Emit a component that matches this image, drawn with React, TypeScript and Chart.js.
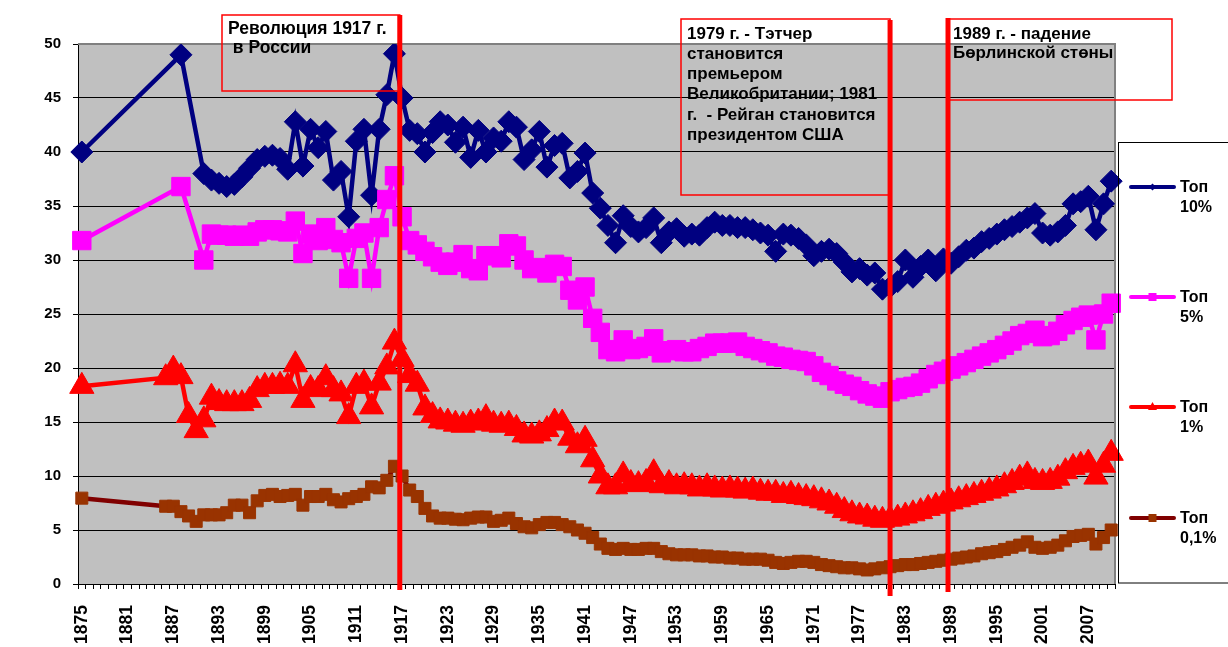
import React, { useEffect, useRef } from "react";
import { Chart, registerables } from "chart.js";

Chart.register(...registerables);

// Categories: every year from 1875 to 2010
const YEARS: string[] = Array.from({ length: 136 }, (_, i) => String(1875 + i));

// Top 10% income share
const TOP10: (number | null)[] = [
  40.0, null, null, null, null, // 1875-1879
  null, null, null, null, null, null, null, null, 49.0, null, // 1880-1889
  null, 38.0, 37.4, 37.1, 36.8, 37.0, 37.7, 38.5, 39.3, 39.6, // 1890s
  39.7, 39.4, 38.4, 42.8, 38.7, 42.1, 40.4, 41.9, 37.4, 38.2, // 1900s
  34.0, 41.0, 42.1, 36.0, 42.1, 45.3, 49.1, 45.0, 42.0, 41.7, // 1910s
  40.0, 41.8, 42.8, 42.5, 40.9, 42.3, 39.5, 42.0, 40.0, 41.3, // 1920s
  41.0, 42.8, 42.3, 39.3, 40.2, 41.9, 38.6, 40.6, 40.8, 37.6, // 1930s
  38.2, 39.9, 36.2, 34.8, 33.2, 31.6, 34.1, 33.1, 32.6, 33.0, // 1940s
  33.9, 31.6, 32.6, 32.9, 32.2, 32.4, 32.3, 33.0, 33.5, 33.2, // 1950s
  33.2, 33.0, 33.0, 32.8, 32.5, 32.3, 30.8, 32.4, 32.3, 32.0, // 1960s
  31.4, 30.4, 30.8, 31.0, 30.6, 29.8, 28.9, 29.2, 28.6, 28.8, // 1970s
  27.3, 27.5, 28.0, 30.0, 28.4, 29.4, 30.0, 29.0, 30.1, 29.7, // 1980s
  30.3, 30.9, 31.1, 31.7, 32.0, 32.4, 32.8, 33.1, 33.5, 33.9, // 1990s
  34.3, 32.5, 32.3, 32.6, 33.2, 35.2, 35.4, 35.9, 32.8, 35.2, // 2000s
  37.3, // 2010
];

// Top 5%
const TOP5: (number | null)[] = [
  31.8, null, null, null, null,
  null, null, null, null, null, null, null, null, 36.8, null,
  null, 30.0, 32.4, 32.3, 32.3, 32.2, 32.3, 32.2, 32.6, 32.8,
  32.8, 32.7, 32.6, 33.6, 30.6, 32.4, 31.8, 33.0, 31.9, 31.6,
  28.3, 32.0, 32.5, 28.3, 33.0, 35.6, 37.8, 34.0, 31.8, 31.4,
  30.8, 30.3, 29.8, 29.5, 29.8, 30.5, 29.2, 29.0, 30.4, 30.4,
  30.2, 31.5, 31.3, 30.0, 29.2, 29.3, 28.8, 29.6, 29.4, 27.2,
  26.3, 27.5, 24.6, 23.3, 21.7, 21.5, 22.6, 21.7, 21.8, 22.0,
  22.7, 21.4, 21.6, 21.7, 21.5, 21.5, 21.8, 22.0, 22.3, 22.3,
  22.3, 22.4, 22.0, 21.8, 21.6, 21.4, 21.1, 21.0, 20.8, 20.7,
  20.6, 20.2, 19.6, 19.3, 18.8, 18.5, 18.3, 17.9, 17.6, 17.4,
  17.2, 17.8, 18.0, 18.2, 18.3, 18.6, 19.0, 19.4, 19.7, 19.9,
  20.2, 20.5, 20.8, 21.1, 21.4, 21.7, 22.1, 22.5, 23.0, 23.2,
  23.5, 22.9, 23.0, 23.4, 24.0, 24.4, 24.7, 24.9, 22.6, 25.0,
  26.0,
];

// Top 1%
const TOP1: (number | null)[] = [
  18.3, null, null, null, null,
  null, null, null, null, null, null, 19.1, 19.9, 19.2, 15.6,
  14.2, 15.2, 17.3, 16.8, 16.7, 16.7, 16.7, 17.0, 18.0, 18.3,
  18.3, 18.4, 18.3, 20.3, 17.0, 18.1, 18.0, 19.1, 18.0, 17.6,
  15.5, 18.3, 18.6, 16.4, 18.6, 20.1, 22.4, 20.8, 19.3, 18.5,
  16.3, 15.6, 15.1, 15.0, 14.8, 14.7, 14.9, 15.0, 15.4, 14.8,
  14.7, 14.8, 14.4, 13.8, 13.7, 13.9, 14.3, 15.0, 14.9, 13.5,
  12.8, 13.4, 11.5, 10.0, 9.0, 9.0, 10.1, 9.3, 9.2, 9.4,
  10.3, 9.1, 9.3, 9.0, 9.1, 9.0, 8.8, 9.0, 8.8, 8.7,
  8.8, 8.7, 8.6, 8.7, 8.5, 8.4, 8.4, 8.2, 8.3, 8.1,
  8.0, 7.9, 7.7, 7.5, 7.2, 6.8, 6.5, 6.3, 6.2, 6.0,
  5.9, 6.0, 6.1, 6.3, 6.5, 6.7, 7.0, 7.2, 7.4, 7.6,
  7.8, 8.0, 8.2, 8.4, 8.6, 8.8, 9.1, 9.4, 9.8, 10.1,
  9.5, 9.4, 9.5, 9.8, 10.4, 10.8, 11.0, 11.2, 9.9, 11.0,
  12.1,
];

// Top 0.1%
const TOP01: (number | null)[] = [
  7.95, null, null, null, null,
  null, null, null, null, null, null, 7.2, 7.2, 6.7, 6.3,
  5.8, 6.4, 6.4, 6.4, 6.6, 7.3, 7.3, 6.6, 7.7, 8.2,
  8.3, 8.1, 8.2, 8.3, 7.3, 8.1, 8.1, 8.3, 7.8, 7.6,
  7.9, 8.1, 8.3, 9.0, 8.9, 9.6, 10.9, 10.0, 8.7, 8.1,
  7.0, 6.3, 6.1, 6.1, 6.0, 5.95, 6.1, 6.2, 6.2, 5.8,
  5.9, 6.1, 5.6, 5.3, 5.2, 5.5, 5.7, 5.7, 5.5, 5.3,
  5.0, 4.7, 4.3, 3.7, 3.3, 3.2, 3.3, 3.2, 3.2, 3.3,
  3.3, 3.0, 2.8, 2.7, 2.7, 2.7, 2.6, 2.6, 2.5, 2.5,
  2.4, 2.4, 2.3, 2.3, 2.3, 2.2, 2.0, 1.9, 2.0, 2.1,
  2.1, 2.0, 1.8, 1.7, 1.6, 1.5, 1.5, 1.4, 1.3, 1.4,
  1.5, 1.6, 1.7, 1.8, 1.8, 1.9, 2.0, 2.1, 2.2, 2.3,
  2.4, 2.5, 2.6, 2.8, 2.9, 3.0, 3.2, 3.4, 3.6, 3.9,
  3.4, 3.3, 3.4, 3.6, 4.0, 4.4, 4.5, 4.6, 3.7, 4.3,
  5.0,
];

const Y_MIN = 0;
const Y_MAX = 50;
const Y_STEP = 5;
const X_LABEL_EVERY = 6;

const LEGEND_NAMES = ["Топ|10%", "Топ|5%", "Топ|1%", "Топ|0,1%"];

// Event markers (fractional year positions of the vertical lines)
const EVENT_YEARS = [1916.7, 1981.0, 1988.6];

const NOTE1 = ["Революция 1917 г.", " в России"];
const NOTE2 = [
  "1979 г. - Тэтчер",
  "становится",
  "премьером",
  "Великобритании; 1981",
  "г.  - Рейган становится",
  "президентом США",
];
const NOTE3 = ["1989 г. - падение", "Бөрлинской стөны"];

const FONT = '"Liberation Sans", Arial, Helvetica, sans-serif';

const SERIES = [
  { data: TOP10, line: "#000080", fill: "#000080", style: "rectRot", r: 11, order: 4 },
  { data: TOP5, line: "#FF00FF", fill: "#FF00FF", style: "rect", r: 13, order: 3 },
  { data: TOP1, line: "#FF0000", fill: "#FF0000", style: "triangle", r: 14, order: 2 },
  { data: TOP01, line: "#800000", fill: "#993300", style: "rect", r: 8.5, order: 1 },
];

const decorPlugin = {
  id: "decor",
  beforeDraw(chart: any) {
    const { ctx, chartArea: a } = chart;
    ctx.save();
    ctx.fillStyle = "#FFFFFF";
    ctx.fillRect(0, 0, chart.width, chart.height);
    ctx.fillStyle = "#C0C0C0";
    ctx.fillRect(a.left, a.top, a.right - a.left, a.bottom - a.top);
    ctx.restore();
  },
  beforeDatasetsDraw(chart: any) {
    const { ctx, chartArea: a } = chart;
    ctx.save();
    ctx.strokeStyle = "#808080";
    ctx.lineWidth = 2;
    ctx.beginPath();
    ctx.moveTo(a.left, a.top);
    ctx.lineTo(a.right, a.top);
    ctx.lineTo(a.right, a.bottom);
    ctx.stroke();
    ctx.restore();
  },
  afterDraw(chart: any) {
    const { ctx } = chart;
    const xs = chart.scales.x;
    const xAt = (yr: number) => xs.getPixelForValue(yr - 1875);
    const e1 = xAt(EVENT_YEARS[0]);
    const e2 = xAt(EVENT_YEARS[1]);
    const e3 = xAt(EVENT_YEARS[2]);

    ctx.save();
    // annotation boxes
    ctx.strokeStyle = "#FF0000";
    ctx.lineWidth = 1.5;
    ctx.strokeRect(222, 15, e1 - 222, 76);
    ctx.strokeRect(681, 19, e2 - 681, 176);
    ctx.strokeRect(e3, 19, 1172 - e3, 81);

    ctx.fillStyle = "#000";
    ctx.font = `bold 17.5px ${FONT}`;
    ctx.textBaseline = "middle";
    ctx.textAlign = "left";
    ctx.fillText(NOTE1[0], 228, 29);
    ctx.fillText(NOTE1[1], 228, 48);
    ctx.font = `bold 17px ${FONT}`;
    NOTE2.forEach((t, i) => ctx.fillText(t, 687, 34.5 + i * 20.1));
    NOTE3.forEach((t, i) => ctx.fillText(t, 953, 34 + i * 19.5));

    // legend
    ctx.strokeStyle = "#000";
    ctx.lineWidth = 1;
    ctx.strokeRect(1118.5, 142.5, 140, 440.5);
    const ly = [187, 297, 407, 518];
    SERIES.forEach((s, i) => {
      const y = ly[i];
      ctx.strokeStyle = s.line;
      ctx.lineWidth = 4;
      ctx.lineCap = "round";
      ctx.beginPath();
      ctx.moveTo(1131, y);
      ctx.lineTo(1174, y);
      ctx.stroke();
      ctx.fillStyle = s.fill;
      const cx = 1152.5;
      ctx.beginPath();
      if (s.style === "rectRot") {
        ctx.moveTo(cx, y - 3.5);
        ctx.lineTo(cx + 3.5, y);
        ctx.lineTo(cx, y + 3.5);
        ctx.lineTo(cx - 3.5, y);
      } else if (s.style === "triangle") {
        ctx.moveTo(cx, y - 5);
        ctx.lineTo(cx + 4.5, y + 3);
        ctx.lineTo(cx - 4.5, y + 3);
      } else {
        ctx.rect(cx - 4, y - 4, 8, 8);
      }
      ctx.closePath();
      ctx.fill();
      const [a, b] = LEGEND_NAMES[i].split("|");
      ctx.fillStyle = "#000";
      ctx.font = `bold 16px ${FONT}`;
      ctx.fillText(a, 1180, y + 1);
      ctx.fillText(b, 1180, y + 21);
    });

    // vertical event lines
    ctx.strokeStyle = "#FF0000";
    ctx.lineWidth = 5;
    ctx.lineCap = "butt";
    [
      [e1, 15, 590],
      [e2, 20, 596],
      [e3, 18, 592],
    ].forEach(([x, y0, y1]) => {
      ctx.beginPath();
      ctx.moveTo(x, y0);
      ctx.lineTo(x, y1);
      ctx.stroke();
    });
    ctx.restore();
  },
};

export default function App() {
  const ref = useRef<HTMLCanvasElement>(null);
  useEffect(() => {
    if (!ref.current) return;
    Chart.defaults.font.family = FONT;
    const chart = new Chart(ref.current, {
      type: "line",
      data: {
        labels: YEARS,
        datasets: SERIES.map((s, i) => ({
          label: LEGEND_NAMES[i].replace("|", " "),
          data: s.data,
          borderColor: s.line,
          backgroundColor: s.fill,
          borderWidth: 4.5,
          pointStyle: s.style as any,
          pointRadius: s.r,
          pointHoverRadius: s.r,
          pointBackgroundColor: s.fill,
          pointBorderColor: s.fill,
          pointBorderWidth: 1,
          spanGaps: true,
          tension: 0,
          order: s.order,
        })),
      },
      options: {
        responsive: false,
        animation: false,
        devicePixelRatio: 1,
        layout: { padding: { left: 0, right: 113, top: 44, bottom: 0 } },
        plugins: { legend: { display: false }, tooltip: { enabled: false } },
        scales: {
          x: {
            type: "category",
            offset: true,
            grid: {
              display: true,
              drawOnChartArea: false,
              drawTicks: true,
              tickLength: 5,
              color: "#000",
              offset: true,
            },
            border: { display: true, color: "#000", width: 1 },
            ticks: {
              autoSkip: false,
              maxRotation: 90,
              minRotation: 90,
              padding: 16,
              color: "#000",
              font: { size: 17.5, weight: "bold" },
              callback: (_v: any, i: number) => (i % X_LABEL_EVERY === 0 ? YEARS[i] : ""),
            },
            afterFit: (s: any) => {
              s.height = 63;
            },
          },
          y: {
            min: Y_MIN,
            max: Y_MAX,
            ticks: {
              stepSize: Y_STEP,
              padding: 12,
              color: "#000",
              font: { size: 15, weight: "bold" },
            },
            grid: { color: "#000", lineWidth: 1, tickLength: 5, drawTicks: true },
            border: { display: true, color: "#000", width: 1 },
            afterFit: (s: any) => {
              s.width = 78;
            },
          },
        },
      },
      plugins: [decorPlugin],
    });
    return () => chart.destroy();
  }, []);
  return (
    <div style={{ position: "absolute", left: 0, top: 0, width: 1228, height: 647, background: "#fff" }}>
      <canvas ref={ref} width={1228} height={647} style={{ display: "block", width: 1228, height: 647 }} />
    </div>
  );
}
